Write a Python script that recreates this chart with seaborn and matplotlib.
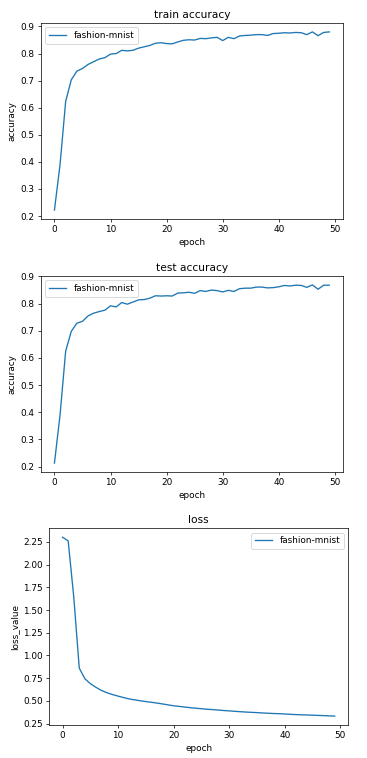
import matplotlib
matplotlib.use("Agg")
import matplotlib.pyplot as plt
import seaborn as sns
import numpy as np

epochs = list(range(50))
train_acc = [0.222, 0.39, 0.623, 0.703, 0.735, 0.745, 0.76, 0.77, 0.78, 0.785,
             0.798, 0.80, 0.812, 0.81, 0.812, 0.82, 0.825, 0.83, 0.838, 0.84,
             0.837, 0.836, 0.843, 0.849, 0.851, 0.85, 0.856, 0.855, 0.858, 0.86,
             0.848, 0.86, 0.855, 0.865, 0.867, 0.868, 0.87, 0.87, 0.867, 0.874,
             0.875, 0.877, 0.876, 0.878, 0.877, 0.87, 0.88, 0.866, 0.878, 0.88]
test_acc = [0.213, 0.39, 0.625, 0.698, 0.728, 0.735, 0.755, 0.765, 0.771, 0.776,
            0.792, 0.788, 0.804, 0.798, 0.806, 0.814, 0.815, 0.82, 0.829, 0.828,
            0.829, 0.828, 0.839, 0.84, 0.842, 0.838, 0.848, 0.845, 0.85, 0.848,
            0.843, 0.849, 0.845, 0.855, 0.857, 0.857, 0.861, 0.861, 0.858, 0.859,
            0.862, 0.867, 0.865, 0.868, 0.867, 0.86, 0.869, 0.853, 0.868, 0.868]
loss = [2.30, 2.26, 1.65, 0.861, 0.745, 0.69, 0.65, 0.615, 0.59, 0.57,
        0.553, 0.537, 0.522, 0.512, 0.502, 0.493, 0.485, 0.477, 0.467, 0.457,
        0.447, 0.44, 0.433, 0.426, 0.42, 0.415, 0.409, 0.405, 0.40, 0.395,
        0.391, 0.386, 0.382, 0.378, 0.375, 0.372, 0.368, 0.365, 0.362, 0.36,
        0.357, 0.353, 0.35, 0.348, 0.346, 0.344, 0.341, 0.339, 0.336, 0.334]
series_label = "fashion-mnist"

plt.rcParams['font.size'] = 10
W, H = 367, 758
DPI = 64
fig = plt.figure(figsize=(W / DPI, H / DPI), dpi=DPI)

def box(l, r, t, b):
    return [l / W, (H - b) / H, (r - l) / W, (b - t) / H]

panels = [
    (box(40.7, 343, 23, 219), train_acc, "train accuracy", "accuracy", "upper left"),
    (box(40.7, 343, 276, 472), test_acc, "test accuracy", "accuracy", "upper left"),
    (box(49, 348.3, 528.3, 725), loss, "loss", "loss_value", "upper right"),
]
for rect, vals, title, ylab, loc in panels:
    ax = fig.add_axes(rect)
    sns.lineplot(x=epochs, y=vals, ax=ax, label=series_label, color="#1f77b4", linewidth=1.5)
    ax.set_title(title)
    ax.set_xlabel("epoch")
    ax.set_ylabel(ylab)
    ax.legend(loc=loc)

fig.savefig("out.png", dpi=DPI)
